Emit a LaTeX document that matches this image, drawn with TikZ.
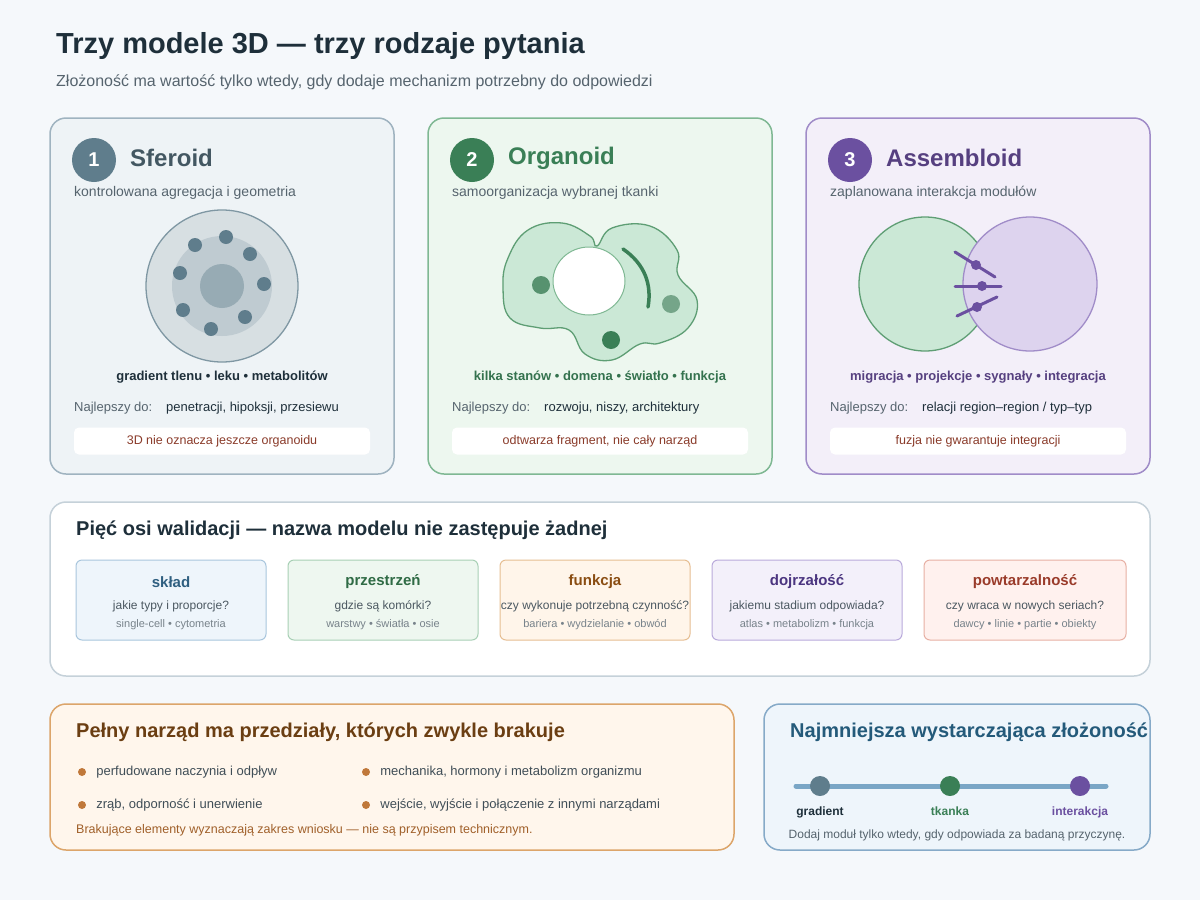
\documentclass[tikz,border=0pt]{standalone}
\usepackage{fontspec}
\setmainfont{Liberation Sans}
\usetikzlibrary{positioning}
\definecolor{bgpage}{HTML}{F5F8FB}
\definecolor{ink}{HTML}{1E2F3A}
\definecolor{muted}{HTML}{56646E}
\definecolor{sfFill}{HTML}{EEF3F6}\definecolor{sfLine}{HTML}{9FB3C0}\definecolor{sfDark}{HTML}{5F7D8C}
\definecolor{orFill}{HTML}{EDF7EF}\definecolor{orLine}{HTML}{7FB893}\definecolor{orDark}{HTML}{3A7F56}
\definecolor{orTissue}{HTML}{CBE8D6}\definecolor{orEdge}{HTML}{5E9E74}
\definecolor{asFill}{HTML}{F3EFF9}\definecolor{asLine}{HTML}{A08CC8}\definecolor{asDark}{HTML}{6B50A0}
\definecolor{asTissue}{HTML}{DDD3EE}
\definecolor{warn}{HTML}{8A3B2A}
\definecolor{gapFill}{HTML}{FFF6EC}\definecolor{gapLine}{HTML}{DCA56A}\definecolor{gapDark}{HTML}{6B3E12}
\definecolor{gapDot}{HTML}{C0783A}\definecolor{gapNote}{HTML}{A0602A}
\definecolor{minFill}{HTML}{EEF5FB}\definecolor{minLine}{HTML}{86AAC8}\definecolor{minDark}{HTML}{245A7A}
\definecolor{minBar}{HTML}{7AA6C6}
\newcommand{\fsz}[1]{\fontsize{#1}{#1}\selectfont}
\begin{document}
\begin{tikzpicture}[
        x=1pt, y=-1pt,
        card/.style={draw, line width=1.5pt, rounded corners=16pt},
        badge/.style={circle, minimum size=44pt, inner sep=0pt, text=white, font=\fsz{20}\bfseries},
        cardtitle/.style={anchor=west, inner sep=0pt, font=\fsz{24}\bfseries},
        sub/.style={anchor=west, inner sep=0pt, text=muted, font=\fsz{14}},
        caption/.style={font=\fsz{13}\bfseries},
        note/.style={fill=white, rounded corners=5pt, minimum width=296pt, minimum height=27pt, text=warn, font=\fsz{12.5}},
        axis/.style={draw, line width=1pt, rounded corners=6pt, minimum width=190pt, minimum height=80pt},
        axtitle/.style={font=\fsz{15}\bfseries},
        axq/.style={text=ink!80, font=\fsz{12}},
        axtag/.style={text=muted!80, font=\fsz{11}},
        bullet/.style={circle, fill=gapDot, minimum size=8pt, inner sep=0pt},
        btext/.style={anchor=west, inner sep=0pt, text=ink!85, font=\fsz{13}},
        stage/.style={circle, minimum size=20pt, inner sep=0pt}
    ]
        % Background
        \fill[bgpage] (0,0) rectangle (1200,900);
        \useasboundingbox (0,0) rectangle (1200,900);

        % Heading
        \node[anchor=west, inner sep=0pt, text=ink, font=\fsz{29}\bfseries] (title) at (56,46) {Trzy modele 3D — trzy rodzaje pytania};
        \node[anchor=west, inner sep=0pt, text=muted, font=\fsz{16}] (subtitle) at (56,82) {Złożoność ma wartość tylko wtedy, gdy dodaje mechanizm potrzebny do odpowiedzi};

        % Card 1: sferoid
        \draw[card, fill=sfFill, draw=sfLine] (50,118) rectangle (394,474);
        \node[badge, fill=sfDark] (b1) at (94,160) {1};
        \node[cardtitle, text=sfDark!70!black] (t1) at (130,158) {Sferoid};
        \node[sub] (s1) at (74,193) {kontrolowana agregacja i geometria};
        \draw[fill=sfDark!25, draw=sfDark!80, line width=1.3pt] (222,286) circle (76);
        \fill[sfDark!40] (222,286) circle (50);
        \fill[sfDark!65] (222,286) circle (22);
        \foreach \px/\py in {195/245,226/237,250/254,264/284,245/317,211/329,183/310,180/273}
            \fill[sfDark] (\px,\py) circle (7);
        \node[caption, text=ink] (c1) at (222,377) {gradient tlenu • leku • metabolitów};
        \node[sub, font=\fsz{13}] (n1) at (74,408) {Najlepszy do:};
        \node[btext, text=ink] at (166,408) {penetracji, hipoksji, przesiewu};
        \node[note] (w1) at (222,441) {3D nie oznacza jeszcze organoidu};

        % Card 2: organoid
        \draw[card, fill=orFill, draw=orLine] (428,118) rectangle (772,474);
        \node[badge, fill=orDark] (b2) at (472,160) {2};
        \node[cardtitle, text=orDark] (t2) at (508,158) {Organoid};
        \node[sub] (s2) at (452,193) {samoorganizacja wybranej tkanki};
        \draw[fill=orTissue, draw=orEdge, line width=1.3pt] plot[smooth cycle, tension=0.7] coordinates {
            (503,288) (508,258) (528,230) (562,223) (590,236) (597,246) (612,228) (650,226) (677,250)
            (678,275) (697,300) (688,328) (660,343) (640,344) (612,360) (585,354) (569,330) (540,328) (510,318)};
        \draw[fill=white, draw=orLine, line width=1pt] (589,281) ellipse (36 and 34);
        \draw[orDark, line width=3.5pt, line cap=round] (623,249) .. controls (645,264) and (652,285) .. (648,307);
        \fill[orDark!85] (541,285) circle (9);
        \fill[orDark!70] (671,304) circle (9);
        \fill[orDark] (611,340) circle (9);
        \node[caption, text=orDark!90!black] (c2) at (600,377) {kilka stanów • domena • światło • funkcja};
        \node[sub, font=\fsz{13}] (n2) at (452,408) {Najlepszy do:};
        \node[btext, text=ink] at (544,408) {rozwoju, niszy, architektury};
        \node[note] (w2) at (600,441) {odtwarza fragment, nie cały narząd};

        % Card 3: assembloid
        \draw[card, fill=asFill, draw=asLine] (806,118) rectangle (1150,474);
        \node[badge, fill=asDark] (b3) at (850,160) {3};
        \node[cardtitle, text=asDark!80!black] (t3) at (886,158) {Assembloid};
        \node[sub] (s3) at (830,193) {zaplanowana interakcja modułów};
        \draw[fill=orTissue, draw=orEdge, line width=1.3pt] (925,284) ellipse (66 and 67);
        \draw[fill=asTissue, draw=asLine, line width=1.3pt] (1030,284) ellipse (67 and 67);
        \foreach \ax/\ay/\bx/\by/\dx/\dy in {955/252/995/277/976/265, 955/286/1001/286/982/286, 957/316/997/297/977/307} {
            \draw[asDark, line width=3pt, line cap=round] (\ax,\ay) -- (\bx,\by);
            \fill[asDark] (\dx,\dy) circle (5);
        }
        \node[caption, text=asDark!80!black] (c3) at (978,377) {migracja • projekcje • sygnały • integracja};
        \node[sub, font=\fsz{13}] (n3) at (830,408) {Najlepszy do:};
        \node[btext, text=ink] at (922,408) {relacji region–region / typ–typ};
        \node[note] (w3) at (978,441) {fuzja nie gwarantuje integracji};

        % Validation axes
        \draw[card, fill=white, draw=sfLine!60] (50,502) rectangle (1150,676);
        \node[anchor=west, inner sep=0pt, text=ink, font=\fsz{20}\bfseries] (vt) at (76,530) {Pięć osi walidacji — nazwa modelu nie zastępuje żadnej};
        \foreach \cx/\fc/\lc/\tc/\name/\q/\tags/\w in {
            171/EEF5FB/A9C6DD/2F5F80/skład/jakie typy i proporcje?/single-cell • cytometria/190,
            383/EEF7F0/A8D0B5/2F6B45/przestrzeń/gdzie są komórki?/warstwy • światła • osie/190,
            595/FFF5EA/E6BE92/8A4D12/funkcja/czy wykonuje potrzebną czynność?/bariera • wydzielanie • obwód/190,
            807/F3F0FA/B9AADB/4B3580/dojrzałość/jakiemu stadium odpowiada?/atlas • metabolizm • funkcja/190,
            1025/FFF1EE/E7B0A4/9A3B2A/powtarzalność/czy wraca w nowych seriach?/dawcy • linie • partie • obiekty/202} {
            \definecolor{axf}{HTML}{\fc}\definecolor{axl}{HTML}{\lc}\definecolor{axt}{HTML}{\tc}
            \node[axis, fill=axf, draw=axl, minimum width=\w pt] (ax\cx) at (\cx,600) {};
            \node[axtitle, text=axt] at (\cx,582) {\name};
            \node[axq] at (\cx,606) {\q};
            \node[axtag] at (\cx,625) {\tags};
        }

        % Missing compartments
        \draw[card, fill=gapFill, draw=gapLine] (50,704) rectangle (734,850);
        \node[anchor=west, inner sep=0pt, text=gapDark, font=\fsz{20}\bfseries] (mt) at (76,732) {Pełny narząd ma przedziały, których zwykle brakuje};
        \node[bullet] (m1) at (82,772) {};
        \node[btext, right=10pt of m1] {perfudowane naczynia i odpływ};
        \node[bullet] (m2) at (366,772) {};
        \node[btext, right=10pt of m2] {mechanika, hormony i metabolizm organizmu};
        \node[bullet] (m3) at (82,805) {};
        \node[btext, right=10pt of m3] {zrąb, odporność i unerwienie};
        \node[bullet] (m4) at (366,805) {};
        \node[btext, right=10pt of m4] {wejście, wyjście i połączenie z innymi narządami};
        \node[anchor=west, inner sep=0pt, text=gapNote, font=\fsz{12.5}] (mf) at (76,830) {Brakujące elementy wyznaczają zakres wniosku — nie są przypisem technicznym.};

        % Minimal complexity
        \draw[card, fill=minFill, draw=minLine] (764,704) rectangle (1150,850);
        \node[anchor=west, inner sep=0pt, text=minDark, font=\fsz{20}\bfseries] (lt) at (790,732) {Najmniejsza wystarczająca złożoność};
        \coordinate (la) at (796,786);
        \coordinate (lb) at (1106,786);
        \draw[minBar, line width=5pt, line cap=round] (la) -- (lb);
        \node[stage, fill=sfDark] (g) at (820,786) {};
        \node[stage, fill=orDark] (k) at (950,786) {};
        \node[stage, fill=asDark] (i) at (1080,786) {};
        \node[font=\fsz{12}\bfseries, text=ink, below=7pt of g] {gradient};
        \node[font=\fsz{12}\bfseries, text=orDark, below=7pt of k] {tkanka};
        \node[font=\fsz{12}\bfseries, text=asDark, below=7pt of i] {interakcja};
        \node[text=muted, font=\fsz{12}] (lf) at (957,835) {Dodaj moduł tylko wtedy, gdy odpowiada za badaną przyczynę.};
    \end{tikzpicture}
\end{document}
